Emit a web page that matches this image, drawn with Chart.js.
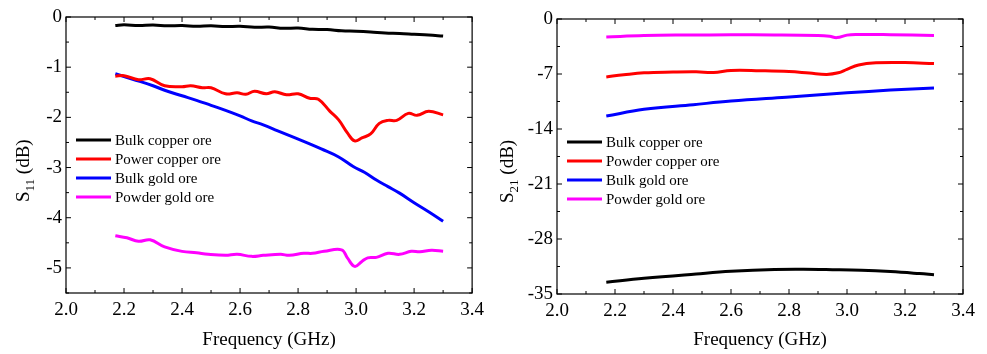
<!DOCTYPE html>
<html>
<head>
<meta charset="utf-8">
<script src="https://cdn.jsdelivr.net/npm/chart.js@4.4.1/dist/chart.umd.min.js"></script>
<style>
body { margin: 0; background: #fff; }
canvas { position: absolute; top: 0; }
#chartS11 { left: 0; }
#chartS21 { left: 490px; }
</style>
</head>
<body>
<canvas id="chartS11" width="490" height="354"></canvas>
<canvas id="chartS21" width="497" height="354"></canvas>
<script>
// tick labels
var freqTicks = [2.0, 2.2, 2.4, 2.6, 2.8, 3.0, 3.2, 3.4];
var s11Ticks = [-5, -4, -3, -2, -1, 0];
var s21Ticks = [-35, -28, -21, -14, -7, 0];

var s11Labels = ["Bulk copper ore", "Power copper ore", "Bulk gold ore", "Powder gold ore"];
var s21Labels = ["Bulk copper ore", "Powder copper ore", "Bulk gold ore", "Powder gold ore"];

// S11 - bulk copper ore
var s11CuBulkFreq = [2.17, 2.2, 2.25, 2.3, 2.35, 2.4, 2.45, 2.5, 2.55, 2.6, 2.65, 2.7, 2.75, 2.8, 2.85, 2.9, 2.95, 3.0, 3.05, 3.1, 3.15, 3.2, 3.25, 3.3];
var s11CuBulk = [-0.17, -0.155, -0.17, -0.16, -0.175, -0.17, -0.185, -0.175, -0.19, -0.185, -0.205, -0.2, -0.225, -0.22, -0.245, -0.25, -0.275, -0.285, -0.3, -0.32, -0.33, -0.345, -0.36, -0.38];

// S11 - powder copper ore
var s11CuPowFreq = [2.17, 2.2, 2.25, 2.29, 2.34, 2.4, 2.43, 2.47, 2.5, 2.55, 2.59, 2.62, 2.65, 2.69, 2.72, 2.76, 2.8, 2.84, 2.87, 2.91, 2.94, 2.97, 2.995, 3.02, 3.05, 3.08, 3.11, 3.14, 3.18, 3.21, 3.25, 3.3];
var s11CuPow = [-1.18, -1.17, -1.25, -1.23, -1.37, -1.39, -1.37, -1.41, -1.41, -1.53, -1.51, -1.54, -1.48, -1.53, -1.49, -1.55, -1.53, -1.62, -1.64, -1.88, -2.05, -2.31, -2.47, -2.41, -2.33, -2.12, -2.06, -2.06, -1.92, -1.96, -1.88, -1.95];

// S11 - bulk gold ore
var s11AuBulkFreq = [2.17, 2.23, 2.3, 2.34, 2.4, 2.45, 2.5, 2.55, 2.6, 2.64, 2.68, 2.73, 2.79, 2.84, 2.88, 2.94, 2.99, 3.03, 3.07, 3.11, 3.15, 3.2, 3.25, 3.3];
var s11AuBulk = [-1.13, -1.24, -1.37, -1.46, -1.57, -1.66, -1.76, -1.86, -1.97, -2.07, -2.15, -2.27, -2.41, -2.53, -2.63, -2.79, -2.98, -3.1, -3.25, -3.38, -3.51, -3.7, -3.88, -4.07];

// S11 - powder gold ore
var s11AuPowFreq = [2.17, 2.21, 2.25, 2.29, 2.34, 2.4, 2.45, 2.49, 2.55, 2.59, 2.64, 2.68, 2.74, 2.77, 2.82, 2.85, 2.89, 2.95, 2.97, 2.995, 3.02, 3.04, 3.07, 3.11, 3.15, 3.19, 3.22, 3.26, 3.3];
var s11AuPow = [-4.36, -4.4, -4.47, -4.44, -4.58, -4.67, -4.7, -4.73, -4.75, -4.73, -4.77, -4.75, -4.73, -4.75, -4.71, -4.71, -4.67, -4.64, -4.8, -4.97, -4.87, -4.8, -4.79, -4.71, -4.73, -4.67, -4.68, -4.65, -4.67];

// S21 - bulk copper ore
var s21CuBulkFreq = [2.17, 2.3, 2.48, 2.6, 2.75, 2.85, 2.95, 3.05, 3.15, 3.25, 3.3];
var s21CuBulk = [-33.5, -33.0, -32.45, -32.12, -31.88, -31.85, -31.9, -31.98, -32.15, -32.4, -32.55];

// S21 - powder copper ore
var s21CuPowFreq = [2.17, 2.23, 2.3, 2.4, 2.48, 2.54, 2.6, 2.7, 2.8, 2.87, 2.93, 2.97, 3.0, 3.04, 3.1, 3.2, 3.3];
var s21CuPow = [-7.37, -7.1, -6.85, -6.75, -6.72, -6.8, -6.55, -6.58, -6.68, -6.88, -7.05, -6.85, -6.4, -5.85, -5.58, -5.55, -5.67];

// S21 - bulk gold ore
var s21AuBulkFreq = [2.17, 2.3, 2.47, 2.6, 2.79, 3.0, 3.15, 3.3];
var s21AuBulk = [-12.35, -11.5, -10.9, -10.45, -9.95, -9.4, -9.05, -8.77];

// S21 - powder gold ore
var s21AuPowFreq = [2.17, 2.3, 2.45, 2.6, 2.75, 2.9, 2.94, 2.965, 3.0, 3.03, 3.15, 3.3];
var s21AuPow = [-2.29, -2.1, -2.04, -2.02, -2.03, -2.1, -2.2, -2.37, -2.05, -1.97, -2.0, -2.1];

var colors = ["#000000", "#ff0000", "#0000ff", "#ff00ff"];
var serif = "'Liberation Serif', 'Times New Roman', serif";

function pairs(xs, ys) {
    return xs.map(function(x, i) { return {x: x, y: ys[i]}; });
}

// frame, inward ticks on all sides, y title with subscript, legend inside plot
var decorPlugin = {
    id: 'decor',
    afterDraw: function(chart, args, opts) {
        var ctx = chart.ctx, a = chart.chartArea;
        var xs = chart.scales.x, ys = chart.scales.y;
        ctx.save();
        ctx.strokeStyle = '#000';
        ctx.lineWidth = 1.2;
        ctx.strokeRect(a.left, a.top, a.right - a.left, a.bottom - a.top);

        ctx.beginPath();
        var xv = freqTicks;
        for (var i = 0; i < xv.length; i++) {
            var px = xs.getPixelForValue(xv[i]);
            ctx.moveTo(px, a.bottom); ctx.lineTo(px, a.bottom - 5);
            ctx.moveTo(px, a.top); ctx.lineTo(px, a.top + 5);
            if (i < xv.length - 1) {
                var mx = xs.getPixelForValue((xv[i] + xv[i + 1]) / 2);
                ctx.moveTo(mx, a.bottom); ctx.lineTo(mx, a.bottom - 3);
                ctx.moveTo(mx, a.top); ctx.lineTo(mx, a.top + 3);
            }
        }
        var yv = opts.yTicks;
        var step = yv[1] - yv[0];
        for (var j = 0; j < yv.length; j++) {
            var py = ys.getPixelForValue(yv[j]);
            ctx.moveTo(a.left, py); ctx.lineTo(a.left + 5, py);
            ctx.moveTo(a.right, py); ctx.lineTo(a.right - 5, py);
            var mv = yv[j] - step / 2;
            if (mv >= ys.min) {
                var my = ys.getPixelForValue(mv);
                ctx.moveTo(a.left, my); ctx.lineTo(a.left + 3, my);
                ctx.moveTo(a.right, my); ctx.lineTo(a.right - 3, my);
            }
        }
        ctx.lineWidth = 1;
        ctx.stroke();

        // y axis title: S with subscript
        ctx.fillStyle = '#000';
        ctx.translate(opts.titleX, opts.titleY);
        ctx.rotate(-Math.PI / 2);
        ctx.textBaseline = 'alphabetic';
        ctx.textAlign = 'left';
        ctx.font = '19px ' + serif;
        ctx.fillText('S', 0, 0);
        var w = ctx.measureText('S').width;
        ctx.font = '13px ' + serif;
        ctx.fillText(opts.sub, w, 5);
        w += ctx.measureText(opts.sub).width;
        ctx.font = '19px ' + serif;
        ctx.fillText(' (dB)', w, 0);
        ctx.setTransform(1, 0, 0, 1, 0, 0);

        // legend
        ctx.font = '15px ' + serif;
        ctx.textBaseline = 'middle';
        chart.data.datasets.forEach(function(ds, k) {
            var y = opts.legendY + k * 19;
            ctx.strokeStyle = ds.borderColor;
            ctx.lineWidth = 3;
            ctx.beginPath();
            ctx.moveTo(opts.legendX, y);
            ctx.lineTo(opts.legendX + 35, y);
            ctx.stroke();
            ctx.fillStyle = '#000';
            ctx.fillText(ds.label, opts.legendX + 39, y + 1);
        });
        ctx.restore();
    }
};

function makeChart(id, datasets, yMin, yMax, yTicks, pad, yWidth, xHeight, decor) {
    return new Chart(document.getElementById(id), {
        type: 'line',
        data: {
            datasets: datasets.map(function(d, i) {
                return {
                    label: d.label,
                    data: d.data,
                    borderColor: colors[i],
                    borderWidth: 3,
                    pointRadius: 0,
                    tension: 0.4,
                    fill: false
                };
            })
        },
        options: {
            responsive: false,
            animation: false,
            layout: { padding: pad },
            plugins: {
                legend: { display: false },
                tooltip: { enabled: false },
                decor: decor
            },
            scales: {
                x: {
                    type: 'linear',
                    min: 2.0,
                    max: 3.4,
                    afterBuildTicks: function(s) { s.ticks = freqTicks.map(function(v) { return {value: v}; }); },
                    afterFit: function(s) { s.height = xHeight; },
                    grid: { display: false, drawTicks: false },
                    border: { display: false },
                    ticks: {
                        color: '#000',
                        font: { family: serif, size: 19 },
                        padding: 6,
                        maxRotation: 0,
                        autoSkip: false,
                        callback: function(v) { return v.toFixed(1); }
                    },
                    title: {
                        display: true,
                        text: 'Frequency (GHz)',
                        color: '#000',
                        font: { family: serif, size: 19 },
                        padding: { top: 0, bottom: 3 }
                    }
                },
                y: {
                    type: 'linear',
                    min: yMin,
                    max: yMax,
                    afterBuildTicks: function(s) { s.ticks = yTicks.map(function(v) { return {value: v}; }); },
                    afterFit: function(s) { s.width = yWidth; },
                    grid: { display: false, drawTicks: false },
                    border: { display: false },
                    ticks: {
                        color: '#000',
                        font: { family: serif, size: 19 },
                        padding: 4,
                        callback: function(v) { return String(v); }
                    }
                }
            }
        },
        plugins: [decorPlugin]
    });
}

document.addEventListener("DOMContentLoaded", function() {
    makeChart('chartS11', [
        { label: s11Labels[0], data: pairs(s11CuBulkFreq, s11CuBulk) },
        { label: s11Labels[1], data: pairs(s11CuPowFreq, s11CuPow) },
        { label: s11Labels[2], data: pairs(s11AuBulkFreq, s11AuBulk) },
        { label: s11Labels[3], data: pairs(s11AuPowFreq, s11AuPow) }
    ], -5.5, 0, s11Ticks, { top: 17, right: 12, left: 0, bottom: 0 }, 66, 61,
    { yTicks: s11Ticks, sub: '11', titleX: 29, titleY: 202, legendX: 76, legendY: 140 });

    makeChart('chartS21', [
        { label: s21Labels[0], data: pairs(s21CuBulkFreq, s21CuBulk) },
        { label: s21Labels[1], data: pairs(s21CuPowFreq, s21CuPow) },
        { label: s21Labels[2], data: pairs(s21AuBulkFreq, s21AuBulk) },
        { label: s21Labels[3], data: pairs(s21AuPowFreq, s21AuPow) }
    ], -35, 0, s21Ticks, { top: 19, right: 24, left: 0, bottom: 0 }, 67, 60,
    { yTicks: s21Ticks, sub: '21', titleX: 23, titleY: 203, legendX: 77, legendY: 142 });
});
</script>
</body>
</html>
